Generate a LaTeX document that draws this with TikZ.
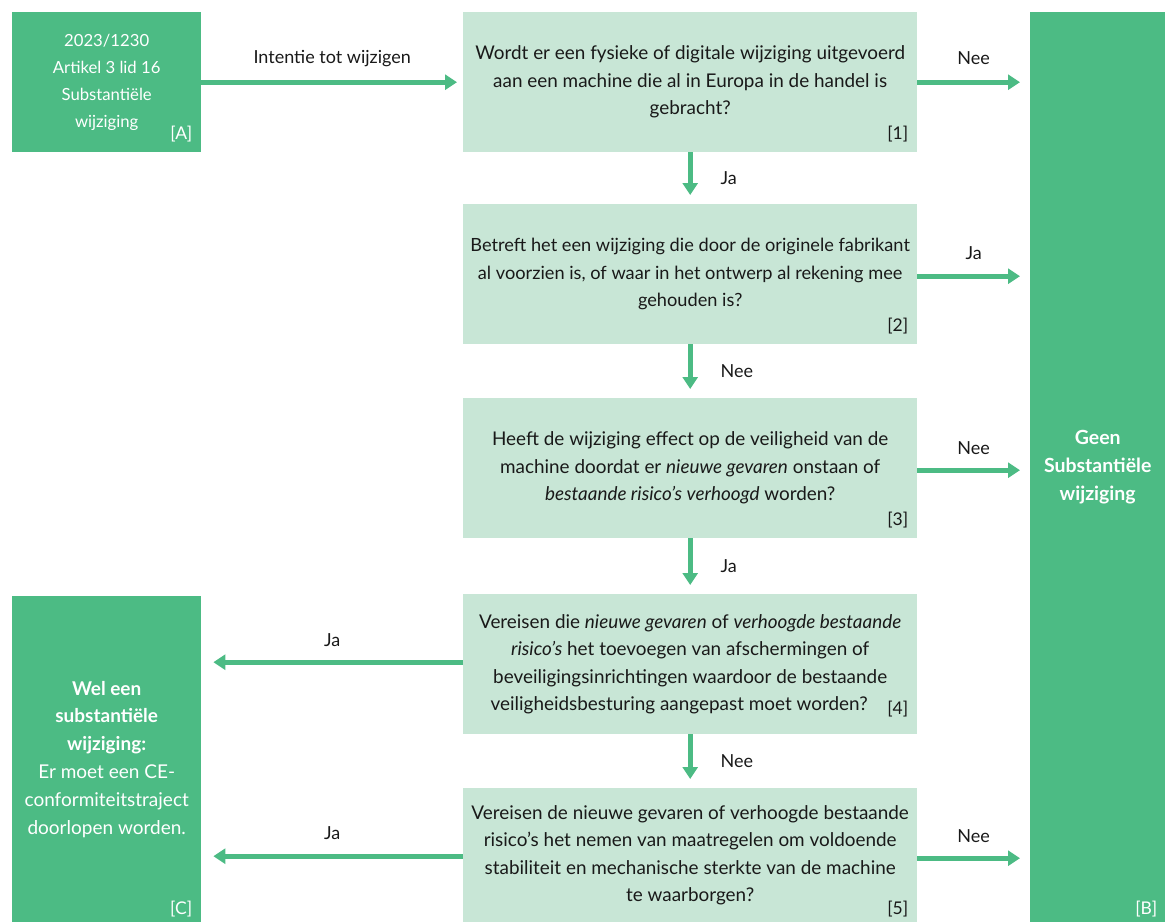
\documentclass[tikz,border=0pt]{standalone}
\usepackage{fontspec}
\setmainfont{Lato}
\usetikzlibrary{arrows.meta}
\definecolor{dkgreen}{RGB}{76,187,132}
\definecolor{ltgreen}{RGB}{200,230,214}
\definecolor{ink}{RGB}{25,25,25}
\tikzset{
  x=1pt, y=-1pt,
  txt/.style={font=\fontsize{18.9}{27.5}\selectfont, align=center},
  dkbox/.style={txt, fill=dkgreen, text=white, inner sep=0pt, anchor=north west},
  ltbox/.style={txt, fill=ltgreen, text=ink, inner sep=0pt, anchor=north west, minimum width=454pt},
  idx/.style={font=\fontsize{17.5}{20}\selectfont, inner sep=0pt, anchor=south east},
  lab/.style={font=\fontsize{18}{20}\selectfont, text=ink, inner sep=0pt},
  arr/.style={draw=dkgreen, line width=5pt, -{Triangle[length=12pt,width=15pt]}},
}
\begin{document}
\begin{tikzpicture}
\useasboundingbox (0,0) rectangle (1165,922);
% boxes
\node[dkbox, minimum width=189pt, minimum height=140pt, font=\fontsize{16.7}{27}\selectfont] (A) at (12,12)
  {2023/1230\\Artikel 3 lid 16\\Substantiële\\wijziging};
\node[ltbox, minimum height=140pt] (b1) at (463,12)
  {Wordt er een fysieke of digitale wijziging uitgevoerd\\aan een machine die al in Europa in de handel is\\gebracht?};
\node[ltbox, minimum height=140pt, font=\fontsize{18.2}{27.5}\selectfont] (b2) at (463,204)
  {Betreft het een wijziging die door de originele fabrikant\\al voorzien is, of waar in het ontwerp al rekening mee\\gehouden is?};
\node[ltbox, minimum height=140pt] (b3) at (463,398)
  {Heeft de wijziging effect op de veiligheid van de\\machine doordat er \textit{nieuwe gevaren} onstaan of\\\textit{bestaande risico's verhoogd} worden?};
\node[ltbox, minimum height=140pt] (b4) at (463,594)
  {Vereisen die \textit{nieuwe gevaren} of \textit{verhoogde bestaande}\\\textit{risico's} het toevoegen van afschermingen of\\beveiligingsinrichtingen waardoor de bestaande\\veiligheidsbesturing aangepast moet worden?\hspace{22pt}\null};
\node[ltbox, minimum height=134pt] (b5) at (463,788)
  {Vereisen de nieuwe gevaren of verhoogde bestaande\\risico's het nemen van maatregelen om voldoende\\stabiliteit en mechanische sterkte van de machine\\te waarborgen?};
\node[dkbox, minimum width=135pt, minimum height=910pt, font=\fontsize{19.5}{28}\selectfont] (B) at (1030,12)
  {\textbf{Geen}\\\textbf{Substantiële}\\\textbf{wijziging}};
\node[dkbox, minimum width=189pt, minimum height=326pt, font=\fontsize{19}{27.8}\selectfont] (C) at (12,596)
  {\textbf{Wel een}\\\textbf{substantiële}\\\textbf{wijziging:}\\Er moet een CE-\\conformiteitstraject\\doorlopen worden.};
% index labels
\node[idx, text=white] (iA) at ([xshift=-9pt,yshift=10pt]A.south east) {[A]};
\node[idx, text=ink] (i1) at ([xshift=-9pt,yshift=10pt]b1.south east) {[1]};
\node[idx, text=ink] (i2) at ([xshift=-9pt,yshift=10pt]b2.south east) {[2]};
\node[idx, text=ink] (i3) at ([xshift=-9pt,yshift=10pt]b3.south east) {[3]};
\node[idx, text=ink] (i4) at ([xshift=-9pt,yshift=17pt]b4.south east) {[4]};
\node[idx, text=ink] (i5) at ([xshift=-9pt,yshift=5pt]b5.south east) {[5]};
\node[idx, text=white] (iB) at ([xshift=-8pt,yshift=5pt]B.south east) {[B]};
\node[idx, text=white] (iC) at ([xshift=-9pt,yshift=5pt]C.south east) {[C]};
% connectors
\draw[arr, shorten >=6pt] (A.east) -- (A.east -| b1.west)
  node[lab, midway, yshift=24pt] (lA) {Intentie tot wijzigen};
\draw[arr, shorten >=10pt] (b1.east) -- (b1.east -| B.west)
  node[lab, midway, yshift=24pt] (l1r) {Nee};
\draw[arr, shorten >=10pt] ([yshift=-2pt]b2.east) -- ([yshift=-2pt]b2.east -| B.west)
  node[lab, midway, yshift=23pt] (l2r) {Ja};
\draw[arr, shorten >=10pt] ([yshift=-2pt]b3.east) -- ([yshift=-2pt]b3.east -| B.west)
  node[lab, midway, yshift=22pt] (l3r) {Nee};
\draw[arr, shorten >=10pt] ([yshift=-3pt]b5.east) -- ([yshift=-3pt]b5.east -| B.west)
  node[lab, midway, yshift=22pt] (l5r) {Nee};
\draw[arr, shorten >=9pt] (b1.south) -- (b2.north)
  node[lab, midway, anchor=west, xshift=28pt] (l12) {Ja};
\draw[arr, shorten >=9pt] (b2.south) -- (b3.north)
  node[lab, midway, anchor=west, xshift=28pt] (l23) {Nee};
\draw[arr, shorten >=9pt] (b3.south) -- (b4.north)
  node[lab, midway, anchor=west, xshift=28pt] (l34) {Ja};
\draw[arr, shorten >=9pt] (b4.south) -- (b5.north)
  node[lab, midway, anchor=west, xshift=28pt] (l45) {Nee};
\draw[arr, shorten >=12pt] ([yshift=2pt]b4.west) -- ([yshift=2pt]b4.west -| C.east)
  node[lab, midway, yshift=22pt] (l4l) {Ja};
\draw[arr, shorten >=12pt] ([yshift=-1pt]b5.west) -- ([yshift=-1pt]b5.west -| C.east)
  node[lab, midway, yshift=23pt] (l5l) {Ja};
\end{tikzpicture}
\end{document}
